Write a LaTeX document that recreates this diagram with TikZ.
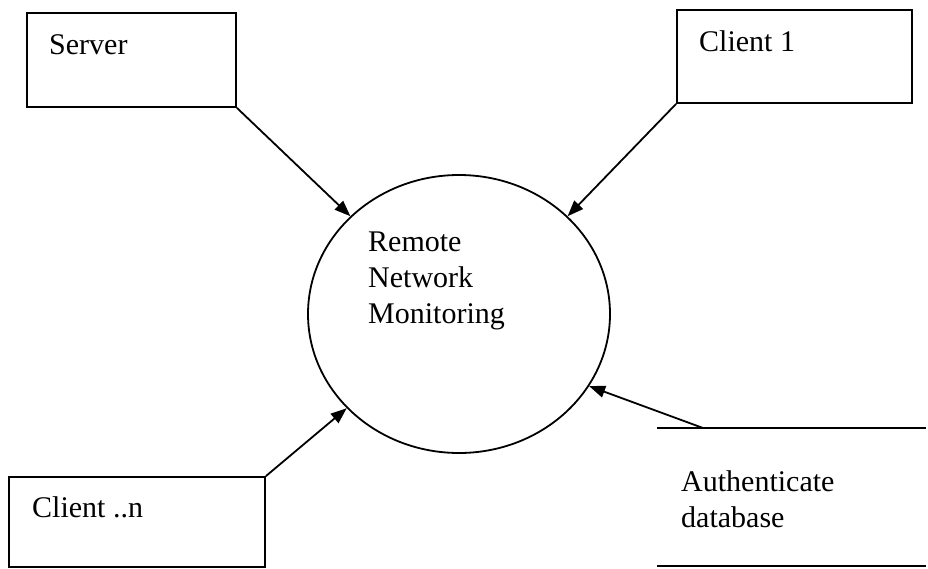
\documentclass[tikz,border=0pt]{standalone}
\usepackage{fontspec}
\setmainfont{Liberation Serif}
\usetikzlibrary{arrows.meta,shapes.geometric}
\begin{document}
\begin{tikzpicture}[x=1pt,y=-1pt,
  lbl/.style={inner sep=0pt,anchor=base west,align=left,font=\fontsize{30}{36}\selectfont},
  boxnode/.style={draw,line width=1.8pt,rectangle,inner sep=0pt},
  conn/.style={line width=1.8pt,-{Triangle[length=16pt,width=12pt]}},
  lineedge/.style={line width=1.8pt}]
\useasboundingbox (0,0) rectangle (928,569);
% boxes
\node[boxnode,minimum width=209pt,minimum height=94pt] (server) at (131.5,60) {};
\node[boxnode,minimum width=235pt,minimum height=93pt] (client1) at (794.5,56.5) {};
\node[boxnode,minimum width=256pt,minimum height=90pt] (clientn) at (137,522) {};
% ellipse
\node[draw,ellipse,line width=1.8pt,minimum width=302pt,minimum height=278pt,inner sep=0pt] (rnm) at (459,314) {};
% texts
\node[lbl] (servertext) at (49,55) {Server};
\node[lbl] (client1text) at (699,52) {Client 1};
\node[lbl] (clientntext) at (32,517) {Client ..n};
\node[lbl] (rnmtext) at (368,323) {Remote\\Network\\Monitoring};
\node[lbl] (authtext) at (681,527) {Authenticate\\database};
% data store lines
\coordinate (dbtl) at (657,428);
\coordinate (dbtr) at (926,428);
\coordinate (dbbl) at (657,566);
\coordinate (dbbr) at (926,566);
\coordinate (dbout) at (703,428);
\draw[lineedge] (dbtl) -- (dbtr);
\draw[lineedge] (dbbl) -- (dbbr);
% connectors
\draw[conn] (server.south east) -- (rnm.138.6);
\draw[conn] (client1.south west) -- (rnm.42.5);
\draw[conn] (clientn.north east) -- (rnm.220.5);
\draw[conn] (dbout) -- (rnm.331.9);
\end{tikzpicture}
\end{document}
